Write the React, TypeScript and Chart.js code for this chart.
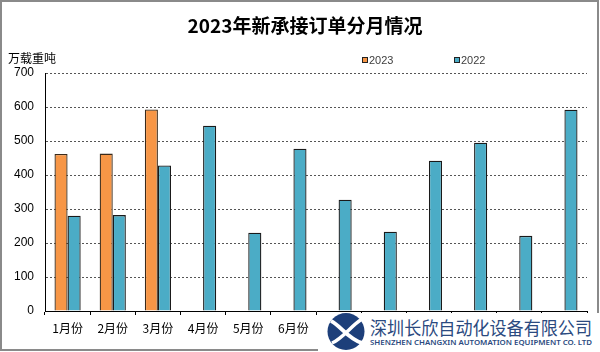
import React, { useEffect, useRef } from "react";
import { Chart, registerables } from "chart.js";

Chart.register(...registerables);

const categories = ["1月份", "2月份", "3月份", "4月份", "5月份", "6月份", "7月份", "8月份", "9月份", "10月份", "11月份", "12月份"];
const values2023: (number | null)[] = [462, 463, 593, null, null, null, null, null, null, null, null, null];
const values2022: number[] = [280, 282, 428, 545, 230, 477, 327, 233, 442, 495, 221, 592];
const yTicks = [0, 100, 200, 300, 400, 500, 600, 700];

const chartTitle = "2023年新承接订单分月情况";
const yAxisTitle = "万载重吨";
const seriesNames = ["2023", "2022"];
const colors = ["#F79646", "#4BACC6"];

const cjk = '"Noto Sans CJK SC", "Noto Sans", sans-serif';

const decorPlugin = {
  id: "decor",
  beforeDraw(chart: any) {
    const ctx = chart.ctx;
    ctx.save();
    ctx.fillStyle = "#ffffff";
    ctx.fillRect(0, 0, chart.width, chart.height);
    ctx.restore();
  },
  afterDraw(chart: any) {
    const ctx = chart.ctx;
    ctx.save();
    // outer frame
    ctx.strokeStyle = "#8a8a8a";
    ctx.lineWidth = 2;
    ctx.strokeRect(1, 1, chart.width - 3, chart.height - 3);
    // title
    ctx.fillStyle = "#000";
    ctx.font = `bold 19px ${cjk}`;
    ctx.textAlign = "center";
    ctx.textBaseline = "middle";
    ctx.fillText(chartTitle, 305, 26);
    // y axis title
    ctx.font = `12px ${cjk}`;
    ctx.textAlign = "left";
    ctx.fillText(yAxisTitle, 8, 58);
    // legend
    const legendX = [362, 454];
    ctx.font = `11px "Liberation Sans", Arial, sans-serif`;
    seriesNames.forEach((n, i) => {
      const x = legendX[i];
      ctx.fillStyle = colors[i];
      ctx.fillRect(x + 0.5, 57.5, 5, 5);
      ctx.strokeStyle = "#222";
      ctx.lineWidth = 1;
      ctx.strokeRect(x + 0.5, 57.5, 5, 5);
      ctx.fillStyle = "#404040";
      ctx.textAlign = "left";
      ctx.textBaseline = "middle";
      ctx.fillText(n, x + 7, 60.5);
    });
    ctx.restore();
  },
};

export default function App() {
  const ref = useRef<HTMLCanvasElement | null>(null);

  useEffect(() => {
    document.body.style.margin = "0";
    const canvas = ref.current;
    if (!canvas) return;
    const chart = new Chart(canvas, {
      type: "bar",
      data: {
        labels: categories,
        datasets: [
          {
            label: seriesNames[0],
            data: values2023,
            backgroundColor: colors[0],
            borderColor: "#3a2a1a",
            borderWidth: 1.3,
            categoryPercentage: 0.58,
            barPercentage: 1,
          },
          {
            label: seriesNames[1],
            data: values2022,
            backgroundColor: colors[1],
            borderColor: "#1a1a1a",
            borderWidth: 1.3,
            categoryPercentage: 0.58,
            barPercentage: 1,
          },
        ],
      },
      options: {
        responsive: false,
        animation: false,
        devicePixelRatio: 1,
        layout: { padding: { top: 73, left: 0, right: 13, bottom: 0 } },
        plugins: {
          legend: { display: false },
          title: { display: false },
          tooltip: { enabled: false },
        },
        scales: {
          x: {
            offset: true,
            grid: {
              display: true,
              offset: true,
              drawOnChartArea: false,
              drawTicks: true,
              tickLength: 4,
              color: "#000",
            },
            border: { display: true, color: "#000", width: 1 },
            ticks: {
              color: "#000",
              font: { family: cjk, size: 12 },
              padding: 6,
              maxRotation: 0,
              autoSkip: false,
            },
            afterFit: (s: any) => {
              s.height = 41;
            },
          },
          y: {
            min: 0,
            max: 700,
            afterBuildTicks: (s: any) => {
              s.ticks = yTicks.map((v) => ({ value: v }));
            },
            grid: {
              display: true,
              color: "#555",
              drawTicks: false,
              tickLength: 0,
            },
            border: { display: true, color: "#000", width: 1, dash: [2, 2] },
            ticks: {
              color: "#000",
              font: { family: '"Liberation Sans", Arial, sans-serif', size: 12 },
              padding: 11,
            },
            afterFit: (s: any) => {
              s.width = 45;
            },
          },
        },
      },
      plugins: [decorPlugin],
    });
    return () => chart.destroy();
  }, []);

  return (
    <div style={{ position: "relative", width: 600, height: 352, overflow: "hidden" }}>
      <canvas ref={ref} width={600} height={352} style={{ display: "block" }} />
      <div
        style={{
          position: "absolute",
          left: 318,
          top: 313,
          width: 282,
          height: 39,
          background: "#fff",
        }}
      >
        <svg width={282} height={39} viewBox="0 0 282 39" style={{ display: "block" }}>
          <circle cx={28} cy={18.5} r={18.5} fill="#1d3f7a" />
          <path d="M13 8 C 22 12, 30 26, 44 30" stroke="#fff" strokeWidth={4} fill="none" />
          <path d="M44 6 C 34 12, 24 26, 14 30" stroke="#fff" strokeWidth={3.5} fill="none" />
          <text
            x={52}
            y={22}
            textLength={222}
            lengthAdjust="spacingAndGlyphs"
            fontFamily={cjk}
            fontSize={18}
            fill="#2b4a80"
          >
            深圳长欣自动化设备有限公司
          </text>
          <text
            x={52}
            y={32}
            textLength={222}
            lengthAdjust="spacingAndGlyphs"
            fontFamily='"Noto Sans", sans-serif'
            fontSize={7}
            fontWeight={600}
            fill="#2b4a80"
          >
            SHENZHEN CHANGXIN AUTOMATION EQUIPMENT CO. LTD
          </text>
        </svg>
      </div>
    </div>
  );
}
